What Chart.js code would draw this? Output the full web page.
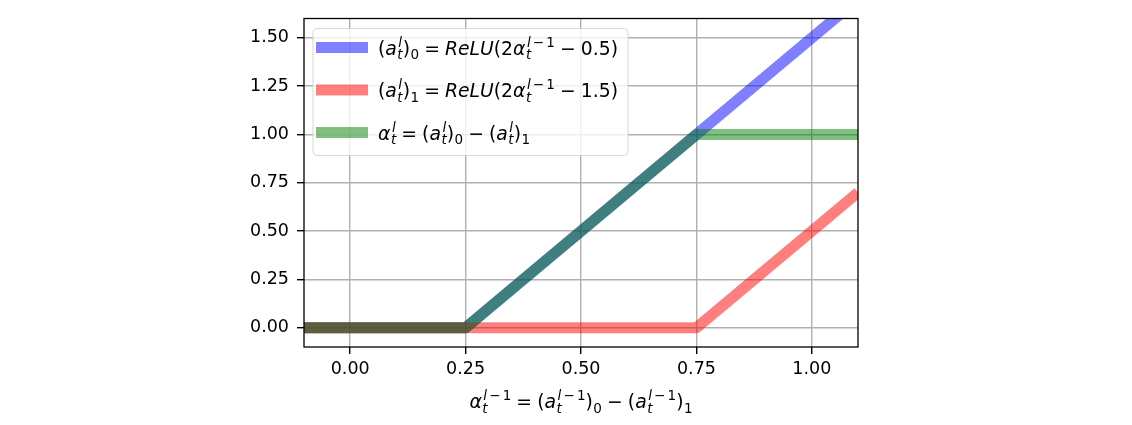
<!DOCTYPE html>
<html>
<head>
<meta charset="utf-8">
<script src="https://cdn.jsdelivr.net/npm/chart.js@4.4.1/dist/chart.umd.min.js"></script>
<style>
    html, body { margin: 0; padding: 0; background: #fff; }
    #wrap { width: 1132px; height: 425px; }
</style>
</head>
<body>
<div id="wrap"><canvas id="relu_chart"></canvas></div>
<script>
// values (piecewise linear, break points only)
const xValues    = [-0.1, 0.25, 0.75, 1.1];
const highValues = [0, 0, 1, 1.7];
const lowValues  = [0, 0, 0, 0.7];
const diffValues = [0, 0, 1, 1];

const seriesLabels = [
    '(a_t^l)_0 = ReLU(2α_t^{l-1} - 0.5)',
    '(a_t^l)_1 = ReLU(2α_t^{l-1} - 1.5)',
    'α_t^l = (a_t^l)_0 - (a_t^l)_1'
];
const seriesColors = ['rgba(0,0,255,0.5)', 'rgba(255,0,0,0.5)', 'rgba(0,128,0,0.5)'];
const xTicks = [0, 0.25, 0.5, 0.75, 1.0];
const yTicks = [0, 0.25, 0.5, 0.75, 1.0, 1.25, 1.5];
const xTitle = 'α_t^{l-1} = (a_t^{l-1})_0 - (a_t^{l-1})_1';

const FONT = '"DejaVu Sans", sans-serif';
const TICK_SIZE = 17.5;
const MATH_SIZE = 18.8;

// tiny mathtext-ish renderer: letters italic, _x / ^{..} for sub and superscripts
function parseMath(src) {
    const atoms = [];
    let i = 0;
    const readGroup = () => {
        if (src[i] === '{') {
            const end = src.indexOf('}', i);
            const s = src.slice(i + 1, end);
            i = end + 1;
            return s;
        }
        return src[i++];
    };
    while (i < src.length) {
        const c = src[i++];
        if (c === ' ') continue;
        const atom = { base: c, sub: null, sup: null };
        while (src[i] === '_' || src[i] === '^') {
            const kind = src[i++];
            const g = readGroup();
            if (kind === '_') atom.sub = g; else atom.sup = g;
        }
        atoms.push(atom);
    }
    return atoms;
}

function drawRun(ctx, text, x, y, size, script, draw) {
    let w = 0;
    for (let k = 0; k < text.length; k++) {
        let ch = text[k];
        if (ch === '-') ch = '\u2212';
        let pad = 0;
        if (ch === '=' || ch === '\u2212') pad = size * (script ? 0.16 : 0.27);
        ctx.font = (/[A-Za-zα-ω]/.test(ch) ? 'italic ' : '') + size + 'px ' + FONT;
        const cw = ctx.measureText(ch).width;
        if (draw) ctx.fillText(ch, x + w + pad, y);
        w += cw + 2 * pad;
    }
    return w;
}

function drawMath(ctx, src, x, y, draw) {
    const s = MATH_SIZE * 0.72;
    let w = 0;
    for (const a of parseMath(src)) {
        w += drawRun(ctx, a.base, x + w, y, MATH_SIZE, false, draw);
        let sw = 0;
        if (a.sup) sw = Math.max(sw, drawRun(ctx, a.sup, x + w + 1.5, y - MATH_SIZE * 0.42, s, true, draw) + 1.5);
        if (a.sub) sw = Math.max(sw, drawRun(ctx, a.sub, x + w + 0.5, y + MATH_SIZE * 0.25, s, true, draw) + 0.5);
        w += sw;
    }
    return w;
}

const mathPlugin = {
    id: 'mathText',
    afterDatasetsDraw(chart) {
        const { ctx, chartArea: a } = chart;
        ctx.save();
        ctx.strokeStyle = '#000';
        ctx.lineWidth = 1.3;
        ctx.strokeRect(a.left, a.top, a.right - a.left, a.bottom - a.top);
        ctx.restore();
    },
    afterDraw(chart) {
        const { ctx, chartArea: a } = chart;
        ctx.save();
        ctx.fillStyle = '#000';
        ctx.textBaseline = 'alphabetic';

        const tw = drawMath(ctx, xTitle, 0, 0, false);
        drawMath(ctx, xTitle, (a.left + a.right) / 2 - tw / 2, 408, true);

        // legend
        const lx = a.left + 9, ly = a.top + 10;
        const widths = seriesLabels.map(l => drawMath(ctx, l, 0, 0, false));
        const bw = 65 + Math.max(...widths) + 10;
        ctx.beginPath();
        ctx.roundRect(lx, ly, bw, 127, 4);
        ctx.fillStyle = 'rgba(255,255,255,0.8)';
        ctx.fill();
        ctx.strokeStyle = 'rgba(204,204,204,0.8)';
        ctx.lineWidth = 1;
        ctx.stroke();

        seriesLabels.forEach((label, i) => {
            const cy = ly + 19 + i * 42.5;
            ctx.beginPath();
            ctx.moveTo(lx + 3, cy);
            ctx.lineTo(lx + 55, cy);
            ctx.strokeStyle = seriesColors[i];
            ctx.lineWidth = 11;
            ctx.lineCap = 'butt';
            ctx.stroke();
            ctx.fillStyle = '#000';
            drawMath(ctx, label, lx + 65, cy + 7, true);
        });
        ctx.restore();
    }
};

const toPoints = ys => xValues.map((x, i) => ({ x: x, y: ys[i] }));

const ctx = document.getElementById('relu_chart');

new Chart(ctx, {
    type: 'scatter',
    data: {
        datasets: [highValues, lowValues, diffValues].map((ys, i) => ({
            label: seriesLabels[i],
            data: toPoints(ys),
            showLine: true,
            borderColor: seriesColors[i],
            backgroundColor: seriesColors[i],
            borderWidth: 11,
            borderJoinStyle: 'round',
            pointRadius: 0,
            tension: 0,
            clip: 0,
            order: 2 - i   // first series drawn first, last one on top
        }))
    },
    options: {
        responsive: true,
        maintainAspectRatio: false,
        animation: false,
        devicePixelRatio: 1,
        layout: { padding: { left: 0, right: 274, top: 18, bottom: 0 } },
        plugins: {
            legend: { display: false },
            tooltip: { enabled: false }
        },
        scales: {
            x: {
                type: 'linear',
                min: -0.1,
                max: 1.1,
                afterBuildTicks: s => { s.ticks = xTicks.map(v => ({ value: v })); },
                afterFit: s => { s.height = 78; },
                border: { display: false },
                grid: { color: '#b0b0b0', lineWidth: 1.4, tickColor: '#000', tickLength: 7 },
                ticks: {
                    color: '#000',
                    padding: 5,
                    maxRotation: 0,
                    font: { family: 'DejaVu Sans', size: TICK_SIZE },
                    callback: v => v.toFixed(2)
                }
            },
            y: {
                type: 'linear',
                min: -0.1,
                max: 1.6,
                afterBuildTicks: s => { s.ticks = yTicks.map(v => ({ value: v })); },
                afterFit: s => { s.width = 304; },
                border: { display: false },
                grid: { color: '#b0b0b0', lineWidth: 1.4, tickColor: '#000', tickLength: 7 },
                ticks: {
                    color: '#000',
                    padding: 8,
                    font: { family: 'DejaVu Sans', size: TICK_SIZE },
                    callback: v => v.toFixed(2)
                }
            }
        }
    },
    plugins: [mathPlugin]
});
</script>
</body>
</html>
